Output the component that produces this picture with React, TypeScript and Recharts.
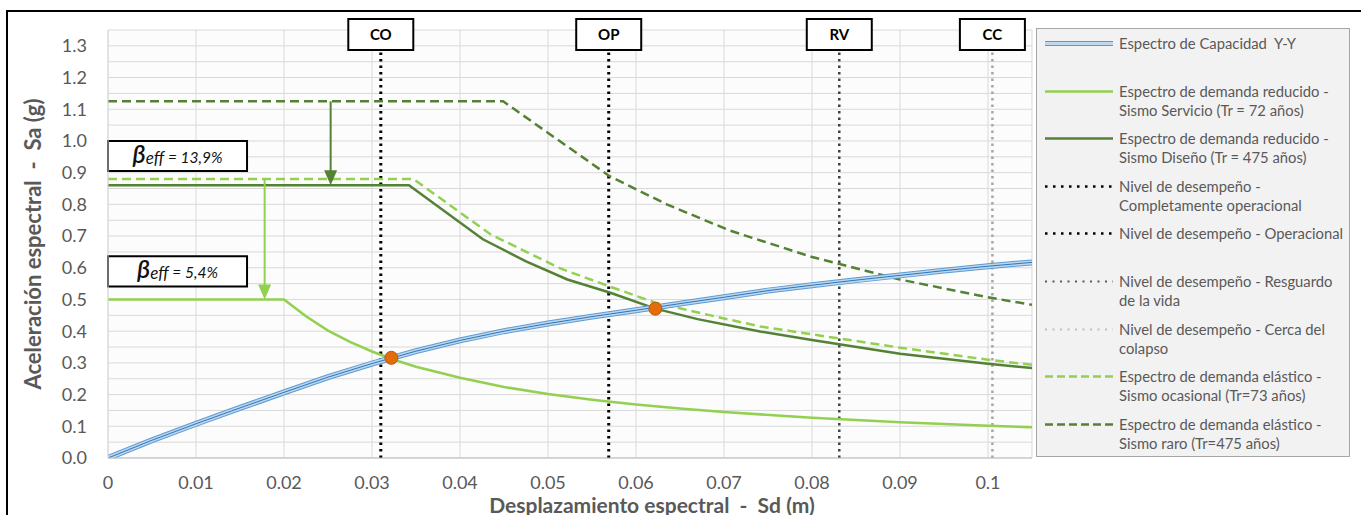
import React from "react";
import {
  ComposedChart,
  Line,
  XAxis,
  YAxis,
  CartesianGrid,
  ReferenceLine,
  ReferenceArea,
  ReferenceDot,
  Label,
} from "recharts";

const FONT = "Lato, 'Open Sans', sans-serif";
const GREY_TEXT = "#595959";
const LIGHT_GREEN = "#92d050";
const DARK_GREEN = "#548235";

// Espectro de capacidad Y-Y  (Sd en m, Sa en g)
const capacidadSd = [0, 0.005, 0.01, 0.015, 0.02, 0.025, 0.03, 0.035, 0.04, 0.045, 0.05, 0.055, 0.06, 0.065, 0.07, 0.075, 0.08, 0.085, 0.09, 0.095, 0.1, 0.105];
const capacidadSa = [0, 0.056, 0.108, 0.158, 0.207, 0.255, 0.298, 0.337, 0.371, 0.4, 0.424, 0.446, 0.466, 0.487, 0.507, 0.528, 0.545, 0.561, 0.576, 0.591, 0.605, 0.617];

// demanda reducido - sismo servicio
const servicioSd = [0, 0.02, 0.0225, 0.025, 0.0275, 0.03, 0.0325, 0.035, 0.04, 0.045, 0.05, 0.055, 0.06, 0.065, 0.07, 0.08, 0.09, 0.1, 0.105];
const servicioSa = [0.5, 0.5, 0.447, 0.402, 0.366, 0.336, 0.31, 0.288, 0.253, 0.224, 0.202, 0.184, 0.169, 0.156, 0.145, 0.127, 0.113, 0.102, 0.097];

// demanda reducido - sismo diseño
const disenoSd = [0, 0.0342, 0.0426, 0.0475, 0.0522, 0.057, 0.0622, 0.067, 0.0741, 0.08, 0.09, 0.1, 0.105];
const disenoSa = [0.86, 0.86, 0.69, 0.62, 0.563, 0.522, 0.471, 0.438, 0.399, 0.372, 0.329, 0.297, 0.284];

// demanda elástico - sismo ocasional
const ocasionalSd = [0, 0.0347, 0.0435, 0.0514, 0.057, 0.0622, 0.07, 0.0741, 0.08, 0.09, 0.1, 0.105];
const ocasionalSa = [0.88, 0.88, 0.705, 0.598, 0.541, 0.49, 0.44, 0.415, 0.39, 0.348, 0.31, 0.294];

// demanda elástico - sismo raro
const raroSd = [0, 0.0449, 0.057, 0.0635, 0.0707, 0.08, 0.09, 0.1, 0.105];
const raroSa = [1.125, 1.125, 0.889, 0.8, 0.717, 0.634, 0.563, 0.507, 0.483];

// niveles de desempeño
const nivelNames = ["CO", "OP", "RV", "CC"];
const nivelSd = [0.031, 0.0569, 0.0831, 0.1005];

// puntos de desempeño
const puntoSd = [0.0322, 0.0622];
const puntoSa = [0.316, 0.471];

// amortiguamiento efectivo
const betaText = ["13,9%", "5,4%"];
const betaSaTop = [1.0, 0.636];
const betaSaBottom = [0.905, 0.541];
const betaSdRight = 0.0158;

// flechas de reducción
const arrowSd = [0.0253, 0.0178];
const arrowFrom = [1.125, 0.88];
const arrowTo = [0.86, 0.5];

const X_TICKS = [0, 0.01, 0.02, 0.03, 0.04, 0.05, 0.06, 0.07, 0.08, 0.09, 0.1];
const Y_TICKS = [0, 0.05, 0.1, 0.15, 0.2, 0.25, 0.3, 0.35, 0.4, 0.45, 0.5, 0.55, 0.6, 0.65, 0.7, 0.75, 0.8, 0.85, 0.9, 0.95, 1.0, 1.05, 1.1, 1.15, 1.2, 1.25, 1.3, 1.35];

const LEGEND_LABELS = [
  ["Espectro de Capacidad  Y-Y"],
  ["Espectro de demanda reducido -", "Sismo Servicio (Tr = 72 años)"],
  ["Espectro de demanda reducido -", "Sismo Diseño (Tr = 475 años)"],
  ["Nivel de desempeño -", "Completamente operacional"],
  ["Nivel de desempeño - Operacional"],
  ["Nivel de desempeño - Resguardo", "de la vida"],
  ["Nivel de desempeño - Cerca del", "colapso"],
  ["Espectro de demanda elástico -", "Sismo ocasional (Tr=73 años)"],
  ["Espectro de demanda elástico -", "Sismo raro (Tr=475 años)"],
];

const zip = (sd: number[], sa: number[]) => sd.map((v, i) => ({ sd: v, sa: sa[i] }));

const capacidad = zip(capacidadSd, capacidadSa);
const servicio = zip(servicioSd, servicioSa);
const diseno = zip(disenoSd, disenoSa);
const ocasional = zip(ocasionalSd, ocasionalSa);
const raro = zip(raroSd, raroSa);

const nivelStyle = [
  { stroke: "#000", width: 3 },
  { stroke: "#000", width: 3 },
  { stroke: "#404040", width: 2.5 },
  { stroke: "#a6a6a6", width: 2.5 },
];

const nivelLabel = (name: string) => (p: any) => {
  const { x, y } = p.viewBox;
  return (
    <g>
      <rect x={x - 32.5} y={y - 11} width={65} height={31} fill="#fff" stroke="#000" strokeWidth={2} />
      <text x={x} y={y + 10} textAnchor="middle" fontFamily={FONT} fontWeight={700} fontSize={15} fill="#000">
        {name}
      </text>
    </g>
  );
};

const betaLabel = (pct: string) => (p: any) => {
  const { x, y, width, height } = p.viewBox;
  return (
    <text
      x={x + width / 2}
      y={y + height / 2 + 7}
      textAnchor="middle"
      fontFamily={FONT}
      fontStyle="italic"
      fill="#111"
    >
      <tspan fontSize={25} fontWeight={600}>β</tspan>
      <tspan fontSize={17} dy={1}>eff</tspan>
      <tspan fontSize={15.5} dy={-1}>{` = ${pct}`}</tspan>
    </text>
  );
};

const arrowShape = (color: string) => (p: any) => {
  const { x1, y1, x2, y2 } = p;
  const head = 15;
  return (
    <g>
      <line x1={x1} y1={y1} x2={x2} y2={y2 - head + 1} stroke={color} strokeWidth={2} />
      <polygon points={`${x2 - 6.5},${y2 - head} ${x2 + 6.5},${y2 - head} ${x2},${y2}`} fill={color} />
    </g>
  );
};

function Swatch({ i }: { i: number }) {
  const y = 9.5;
  let el: React.ReactNode = null;
  if (i === 0) {
    el = (
      <g>
        <line x1={0} x2={68} y1={y} y2={y} stroke="#5b9bd5" strokeWidth={5} />
        <line x1={0} x2={68} y1={y} y2={y} stroke="#bdd7ee" strokeWidth={3} />
      </g>
    );
  } else if (i === 1) {
    el = <line x1={0} x2={68} y1={y} y2={y} stroke={LIGHT_GREEN} strokeWidth={2.5} />;
  } else if (i === 2) {
    el = <line x1={0} x2={68} y1={y} y2={y} stroke={DARK_GREEN} strokeWidth={2.5} />;
  } else if (i === 3 || i === 4) {
    el = <line x1={0} x2={68} y1={y} y2={y} stroke="#000" strokeWidth={2.5} strokeDasharray="2.5 5.5" />;
  } else if (i === 5) {
    el = <line x1={0} x2={68} y1={y} y2={y} stroke="#595959" strokeWidth={2} strokeDasharray="2 5.5" />;
  } else if (i === 6) {
    el = <line x1={0} x2={68} y1={y} y2={y} stroke="#bfbfbf" strokeWidth={2} strokeDasharray="2 5.5" />;
  } else if (i === 7) {
    el = <line x1={0} x2={68} y1={y} y2={y} stroke={LIGHT_GREEN} strokeWidth={2.5} strokeDasharray="8 4" />;
  } else {
    el = <line x1={0} x2={68} y1={y} y2={y} stroke={DARK_GREEN} strokeWidth={2.5} strokeDasharray="8 4" />;
  }
  return (
    <svg width={68} height={19} style={{ position: "absolute", left: 8, top: 0 }}>
      {el}
    </svg>
  );
}

function ChartLegend() {
  return (
    <div
      style={{
        position: "absolute",
        left: 1036,
        top: 28,
        width: 314,
        height: 429,
        boxSizing: "border-box",
        background: "#f2f2f2",
        border: "1px solid #a6a6a6",
      }}
    >
      {LEGEND_LABELS.map((lines, i) => (
        <div key={i} style={{ position: "absolute", left: 0, top: 5 + i * 47.6, width: 312 }}>
          <Swatch i={i} />
          <div
            style={{
              position: "absolute",
              left: 82,
              top: 0,
              fontFamily: FONT,
              fontSize: 14.8,
              lineHeight: "19px",
              color: GREY_TEXT,
              whiteSpace: "pre",
            }}
          >
            {lines.map((l, k) => (
              <div key={k}>{l}</div>
            ))}
          </div>
        </div>
      ))}
    </div>
  );
}

export default function App() {
  return (
    <div style={{ position: "relative", width: 1361, height: 515, background: "#fff", overflow: "hidden" }}>
      <style>{"body{margin:0}"}</style>
      <div
        style={{
          position: "absolute",
          left: 6,
          top: 10,
          width: 1360,
          height: 520,
          borderTop: "2.5px solid #000",
          borderLeft: "2.5px solid #000",
        }}
      />
      <ComposedChart
        width={1361}
        height={515}
        margin={{ top: 30, right: 329, bottom: 0, left: 48 }}
        style={{ position: "absolute", left: 0, top: 0 }}
      >
        <CartesianGrid stroke="#d9d9d9" fill="#fcfcfc" />
        <XAxis
          type="number"
          dataKey="sd"
          domain={[0, 0.105]}
          ticks={X_TICKS}
          allowDataOverflow
          height={57}
          tickLine={false}
          tickSize={6}
          tickMargin={12}
          axisLine={{ stroke: "#bfbfbf" }}
          tick={{ fill: GREY_TEXT, fontSize: 18, fontFamily: FONT }}
          tickFormatter={(v: number) => String(v)}
        >
          <Label
            content={(p: any) => {
              const { x, y, width } = p.viewBox;
              return (
                <text
                  x={x + width / 2 + 82}
                  y={y + 46}
                  textAnchor="middle"
                  dominantBaseline="central"
                  fontFamily={FONT}
                  fontWeight={700}
                  fontSize={21}
                  fill={GREY_TEXT}
                  style={{ whiteSpace: "pre" }}
                >
                  {"Desplazamiento espectral  -  Sd (m)"}
                </text>
              );
            }}
          />
        </XAxis>
        <YAxis
          type="number"
          dataKey="sa"
          domain={[0, 1.35]}
          ticks={Y_TICKS}
          allowDataOverflow
          width={60}
          tickLine={false}
          tickSize={6}
          tickMargin={15}
          axisLine={{ stroke: "#d9d9d9" }}
          interval={0}
          tick={{ fill: GREY_TEXT, fontSize: 18, fontFamily: FONT }}
          tickFormatter={(v: number) => (Math.round(v * 100) % 10 === 0 ? v.toFixed(1) : "")}
        >
          <Label
            content={(p: any) => {
              const { x, y, height } = p.viewBox;
              const cx = x - 16;
              const cy = y + height / 2;
              return (
                <text
                  x={cx}
                  y={cy}
                  transform={`rotate(-90 ${cx} ${cy})`}
                  textAnchor="middle"
                  dominantBaseline="central"
                  fontFamily={FONT}
                  fontWeight={700}
                  fontSize={22}
                  fill={GREY_TEXT}
                  style={{ whiteSpace: "pre" }}
                >
                  {"Aceleración espectral  -  Sa (g)"}
                </text>
              );
            }}
          />
        </YAxis>

        {nivelSd.map((sd, i) => (
          <ReferenceLine
            key={nivelNames[i]}
            x={sd}
            stroke={nivelStyle[i].stroke}
            strokeWidth={nivelStyle[i].width}
            strokeDasharray="2.5 4"
            label={nivelLabel(nivelNames[i])}
          />
        ))}

        {betaText.map((t, i) => (
          <ReferenceArea
            key={t}
            x1={0}
            x2={betaSdRight}
            y1={betaSaBottom[i]}
            y2={betaSaTop[i]}
            fill="#fff"
            fillOpacity={1}
            stroke="#000"
            strokeWidth={2}
            label={betaLabel(t)}
          />
        ))}

        <Line data={raro} dataKey="sa" type="linear" stroke={DARK_GREEN} strokeWidth={2.5} strokeDasharray="9 5" dot={false} isAnimationActive={false} />
        <Line data={ocasional} dataKey="sa" type="linear" stroke={LIGHT_GREEN} strokeWidth={2.5} strokeDasharray="9 5" dot={false} isAnimationActive={false} />
        <Line data={diseno} dataKey="sa" type="linear" stroke={DARK_GREEN} strokeWidth={2.5} dot={false} isAnimationActive={false} />
        <Line data={servicio} dataKey="sa" type="linear" stroke={LIGHT_GREEN} strokeWidth={2.5} dot={false} isAnimationActive={false} />
        <Line data={capacidad} dataKey="sa" type="linear" stroke="#5b9bd5" strokeWidth={6} dot={false} isAnimationActive={false} />
        <Line data={capacidad} dataKey="sa" type="linear" stroke="#bdd7ee" strokeWidth={4} dot={false} isAnimationActive={false} />
        <Line data={capacidad} dataKey="sa" type="linear" stroke="#2e75b6" strokeWidth={1} dot={false} isAnimationActive={false} />

        {arrowSd.map((sd, i) => (
          <ReferenceLine
            key={`arrow-${i}`}
            segment={[
              { x: sd, y: arrowFrom[i] },
              { x: sd, y: arrowTo[i] },
            ]}
            shape={arrowShape(i === 0 ? DARK_GREEN : LIGHT_GREEN)}
          />
        ))}

        {puntoSd.map((sd, i) => (
          <ReferenceDot key={`pd-${i}`} x={sd} y={puntoSa[i]} r={6.5} fill="#e46c0a" stroke="#b85a0e" strokeWidth={1} />
        ))}
      </ComposedChart>
      <ChartLegend />
    </div>
  );
}
